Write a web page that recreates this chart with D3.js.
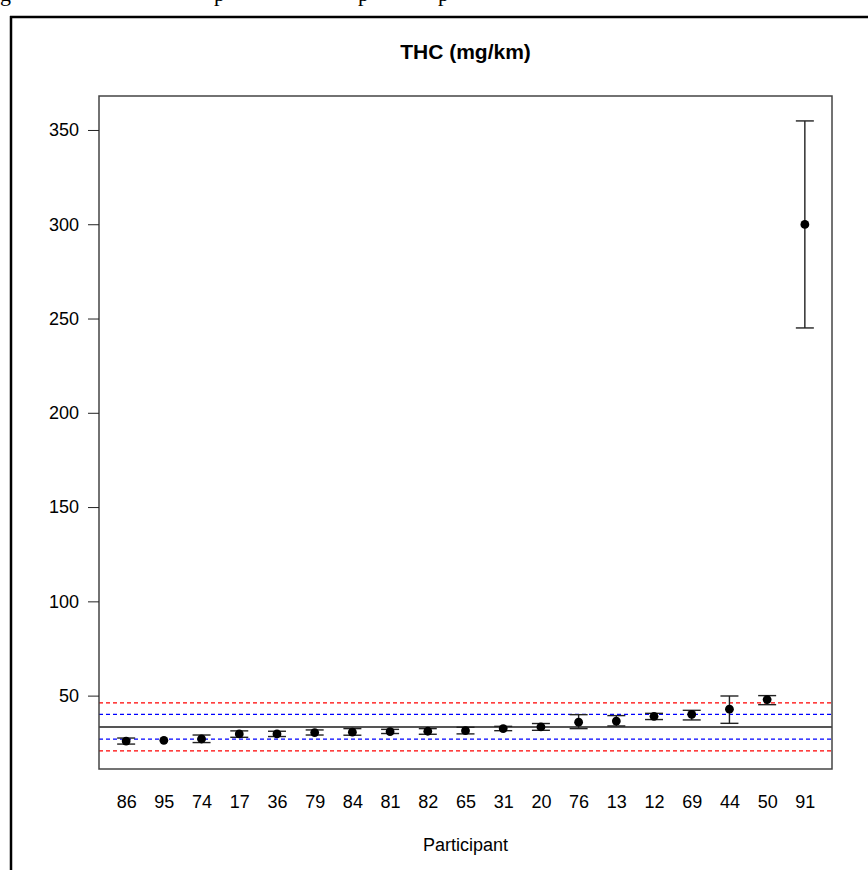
<!DOCTYPE html>
<html>
<head>
<meta charset="utf-8">
<script src="https://cdn.jsdelivr.net/npm/d3@7"></script>
<style>
  html, body { margin: 0; padding: 0; background: #fff; }
  svg { display: block; }
  text { font-family: "Liberation Sans", Arial, sans-serif; }
</style>
</head>
<body>
<svg id="chart" width="868" height="870"></svg>
<script>
// ---- Data ----
const participants = ["86","95","74","17","36","79","84","81","82","65","31","20","76","13","12","69","44","50","91"];
const values = [25.9, 26.3, 27.0, 29.7, 29.7, 30.4, 30.6, 30.9, 31.1, 31.4, 32.5, 33.4, 35.9, 36.5, 39.0, 40.1, 42.8, 47.9, 299.9];
const lower  = [24.3, null, 25.1, 27.9, 28.3, 29.1, 29.0, 29.9, 29.5, 29.7, 31.4, 31.6, 32.5, 33.9, 37.3, 37.1, 35.3, 45.2, 245.0];
const upper  = [27.5, null, 29.1, 31.3, 31.1, 31.8, 32.5, 32.1, 32.5, 33.2, 33.7, 35.2, 39.9, 39.4, 40.6, 42.2, 49.8, 50.0, 354.8];
const assignedValue = [33.3];
const innerLimits = [26.9, 40.0];
const outerLimits = [20.7, 46.2];
const yTicks = [50, 100, 150, 200, 250, 300, 350];
const title = "THC (mg/km)";
const xLabel = "Participant";

// ---- Layout ----
const svg = d3.select("#chart");
const plot = { left: 99, right: 832, top: 96, bottom: 769 };

// R-style 4% axis extension
const n = participants.length;
const xExt = (n - 1) * 0.04;
const x = d3.scaleLinear().domain([1 - xExt, n + xExt]).range([plot.left, plot.right]);

const allY = values.concat(lower.filter(v => v != null), upper.filter(v => v != null));
const yMin = d3.min(allY), yMax = d3.max(allY);
const yExt = (yMax - yMin) * 0.04;
const y = d3.scaleLinear().domain([yMin - yExt, yMax + yExt]).range([plot.bottom, plot.top]);

// Outer frame fragments (from surrounding document)
svg.append("line").attr("x1", 11).attr("x2", 11).attr("y1", 16).attr("y2", 870)
  .attr("stroke", "#000").attr("stroke-width", 2.5);
svg.append("line").attr("x1", 10).attr("x2", 868).attr("y1", 17).attr("y2", 17)
  .attr("stroke", "#000").attr("stroke-width", 2.5);
// cut-off caption descenders at very top
const capFrag = [["g", 0], ["p", 214], ["p", 358], ["p", 438]];
svg.selectAll("text.frag").data(capFrag).enter().append("text")
  .attr("class", "frag")
  .attr("x", d => d[1]).attr("y", 1)
  .style("font-family", "'Liberation Serif', 'Times New Roman', serif")
  .style("font-size", "22px")
  .text(d => d[0]);

// Title
svg.append("text")
  .attr("x", (plot.left + plot.right) / 2).attr("y", 59)
  .attr("text-anchor", "middle")
  .style("font-size", "21px").style("font-weight", "bold")
  .text(title);

// Reference lines
const g = svg.append("g");
g.selectAll("line.outer").data(outerLimits).enter().append("line")
  .attr("x1", plot.left).attr("x2", plot.right)
  .attr("y1", d => y(d)).attr("y2", d => y(d))
  .attr("stroke", "#ff0000").attr("stroke-width", 1.3).attr("stroke-dasharray", "4,3");
g.selectAll("line.inner").data(innerLimits).enter().append("line")
  .attr("x1", plot.left).attr("x2", plot.right)
  .attr("y1", d => y(d)).attr("y2", d => y(d))
  .attr("stroke", "#0000ff").attr("stroke-width", 1.3).attr("stroke-dasharray", "4,3");
g.selectAll("line.assigned").data(assignedValue).enter().append("line")
  .attr("x1", plot.left).attr("x2", plot.right)
  .attr("y1", d => y(d)).attr("y2", d => y(d))
  .attr("stroke", "#555").attr("stroke-width", 2);

// Error bars
const data = participants.map((p, i) => ({ p, i: i + 1, v: values[i], lo: lower[i], hi: upper[i] }));
const eb = data.filter(d => d.lo != null);
const cap = 9;
g.selectAll("line.eb").data(eb).enter().append("line")
  .attr("x1", d => x(d.i)).attr("x2", d => x(d.i))
  .attr("y1", d => y(d.lo)).attr("y2", d => y(d.hi))
  .attr("stroke", "#222").attr("stroke-width", 1.4);
g.selectAll("line.capHi").data(eb).enter().append("line")
  .attr("x1", d => x(d.i) - cap).attr("x2", d => x(d.i) + cap)
  .attr("y1", d => y(d.hi)).attr("y2", d => y(d.hi))
  .attr("stroke", "#222").attr("stroke-width", 1.4);
g.selectAll("line.capLo").data(eb).enter().append("line")
  .attr("x1", d => x(d.i) - cap).attr("x2", d => x(d.i) + cap)
  .attr("y1", d => y(d.lo)).attr("y2", d => y(d.lo))
  .attr("stroke", "#222").attr("stroke-width", 1.4);

// Points
g.selectAll("circle").data(data).enter().append("circle")
  .attr("cx", d => x(d.i)).attr("cy", d => y(d.v)).attr("r", 4.4)
  .attr("fill", "#000");

// Plot box
svg.append("rect")
  .attr("x", plot.left).attr("y", plot.top)
  .attr("width", plot.right - plot.left).attr("height", plot.bottom - plot.top)
  .attr("fill", "none").attr("stroke", "#444").attr("stroke-width", 1.5);

// Y axis
const yAxis = d3.axisLeft(y).tickValues(yTicks).tickSize(11).tickPadding(9).tickFormat(d3.format("d"));
const ya = svg.append("g").attr("transform", `translate(${plot.left},0)`).call(yAxis);
ya.select(".domain").remove();
ya.selectAll("line").attr("stroke", "#222");
ya.selectAll("text").style("font-size", "18px").style("font-family", "'Liberation Sans', Arial, sans-serif").attr("fill", "#000");

// X axis labels (no ticks)
const xAxis = d3.axisBottom(x).tickValues(data.map(d => d.i)).tickSize(0).tickPadding(26)
  .tickFormat(i => participants[i - 1]);
const xa = svg.append("g").attr("transform", `translate(0,${plot.bottom})`).call(xAxis);
xa.select(".domain").remove();
xa.selectAll("text").style("font-size", "18px").style("font-family", "'Liberation Sans', Arial, sans-serif").attr("fill", "#000");

svg.append("text")
  .attr("x", (plot.left + plot.right) / 2).attr("y", 851)
  .attr("text-anchor", "middle")
  .style("font-size", "18px")
  .text(xLabel);
</script>
</body>
</html>
